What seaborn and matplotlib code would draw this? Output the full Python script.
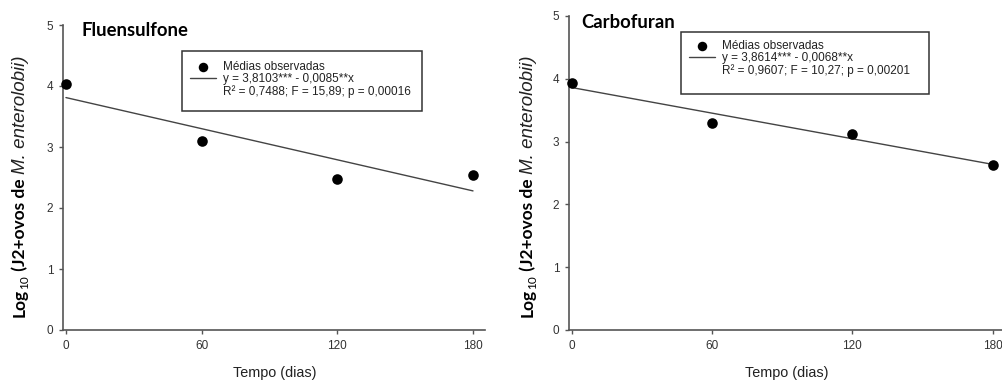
import matplotlib
matplotlib.use("Agg")
import matplotlib.pyplot as plt
from matplotlib.patches import Rectangle
import seaborn as sns
import numpy as np
import pandas as pd

# ---- data ----
days = [0, 60, 120, 180]
fluensulfone = [4.04, 3.10, 2.47, 2.54]
carbofuran = [3.93, 3.30, 3.12, 2.62]
titles = ["Fluensulfone", "Carbofuran"]
intercepts = [3.8103, 3.8614]
slopes = [-0.0085, -0.0068]
eq_labels = ["y = 3,8103*** - 0,0085**x", "y = 3,8614*** - 0,0068**x"]
stat_labels = ["R² = 0,7488; F = 15,89; p = 0,00016",
               "R² = 0,9607; F = 10,27; p = 0,00201"]
legend_point_label = "Médias observadas"
xlabel = "Tempo (dias)"
xticks = [0, 60, 120, 180]
yticks = [0, 1, 2, 3, 4, 5]

sns.set_style("ticks")
plt.rcParams['font.family'] = ['Liberation Sans', 'DejaVu Sans']

W, H = 1003, 383
fig = plt.figure(figsize=(W / 100, H / 100), dpi=100)

def fx(px):
    return px / W

def fy(py):  # py from top
    return 1 - py / H

axes_px = [  # left, top, right, bottom in image pixels
    (63, 25, 485, 330),
    (569, 16, 1003, 330),
]
xlims = [(-1.3, 185.3), (-1.1, 184.4)]
legend_anchor = [(0.300, 0.883), (0.276, 0.922)]
legend_frame = [(0.282, 0.719, 0.850, 0.916), (0.258, 0.752, 0.829, 0.949)]
title_pos = [(82, 30), (581, 22)]
ylabel_x = [20, 528]
xlabel_x = [275, 787]

series = [fluensulfone, carbofuran]
grey = "#555555"

for i in range(2):
    l, t, r, b = axes_px[i]
    ax = fig.add_axes([fx(l), fy(b), fx(r - l), (b - t) / H])
    df = pd.DataFrame({"dias": days, "valor": series[i]})
    xl = np.array([0, 180])
    fit = pd.DataFrame({"dias": xl, "fit": intercepts[i] + slopes[i] * xl})
    sns.lineplot(data=fit, x="dias", y="fit", ax=ax, color="#444444", lw=1.0,
                 label=eq_labels[i])
    sns.scatterplot(data=df, x="dias", y="valor", ax=ax, color="black", s=58,
                    edgecolor="black", linewidth=0, label=legend_point_label,
                    zorder=5, clip_on=False)
    ax.set_xlim(*xlims[i])
    ax.set_ylim(0, 5)
    ax.set_xticks(xticks)
    ax.set_yticks(yticks)
    ax.set_xlabel("")
    ax.set_ylabel("")
    for s in ["top", "right"]:
        ax.spines[s].set_visible(False)
    for s in ["left", "bottom"]:
        ax.spines[s].set_color(grey)
        ax.spines[s].set_linewidth(1.2)
    ax.tick_params(axis="both", colors=grey, labelcolor="#333333",
                   labelsize=8.5, length=3, width=1, direction="out", pad=4)

    # legend
    handles, labels = ax.get_legend_handles_labels()
    hmap = dict(zip(labels, handles))
    blank = plt.Line2D([], [], linestyle="none", marker=None)
    leg = ax.legend([hmap[legend_point_label], hmap[eq_labels[i]], blank],
                    [legend_point_label, eq_labels[i], stat_labels[i]],
                    loc="upper left", bbox_to_anchor=legend_anchor[i],
                    frameon=False, fontsize=8.5, labelspacing=0.0,
                    handlelength=2.2, handletextpad=0.6, borderpad=0,
                    borderaxespad=0, markerscale=0.9)
    for txt in leg.get_texts():
        txt.set_color("#222222")
    x0, y0, x1, y1 = legend_frame[i]
    ax.add_patch(Rectangle((x0, y0), x1 - x0, y1 - y0, transform=ax.transAxes,
                           fill=False, edgecolor="#333333", lw=1.1,
                           clip_on=False, zorder=6))

    # title
    fig.text(fx(title_pos[i][0]), fy(title_pos[i][1]), titles[i],
             family="Lato", weight="bold", fontsize=13.3, color="black",
             ha="left", va="center")
    # x label
    fig.text(fx(xlabel_x[i]), fy(373), xlabel, fontsize=10.4,
             color="#222222", ha="center", va="center")

# y labels built from styled pieces
fig.canvas.draw()
renderer = fig.canvas.get_renderer()
pieces = [
    ("Log", dict(family="Lato", weight="bold", fontsize=12.5, color="black"), 0),
    ("10", dict(family="Lato", weight="normal", fontsize=8.5, color="black"), 3),
    (" (J2+ovos de ", dict(family="Lato", weight="bold", fontsize=12.5, color="black"), 0),
    ("M. enterolobii)", dict(family="Liberation Sans", style="italic", fontsize=13.5,
                             color="#222222"), 0),
]
for i in range(2):
    ycur = 383 - 317  # display coords, from bottom
    xb = ylabel_x[i] + 5
    for txt, props, shift in pieces:
        tobj = fig.text(0, 0, txt, rotation=90, rotation_mode="anchor",
                        ha="left", va="baseline", transform=None, **props)
        tobj.set_position((xb + shift, ycur))
        bb = tobj.get_window_extent(renderer)
        ycur += bb.height

fig.savefig("out.png", dpi=100)
